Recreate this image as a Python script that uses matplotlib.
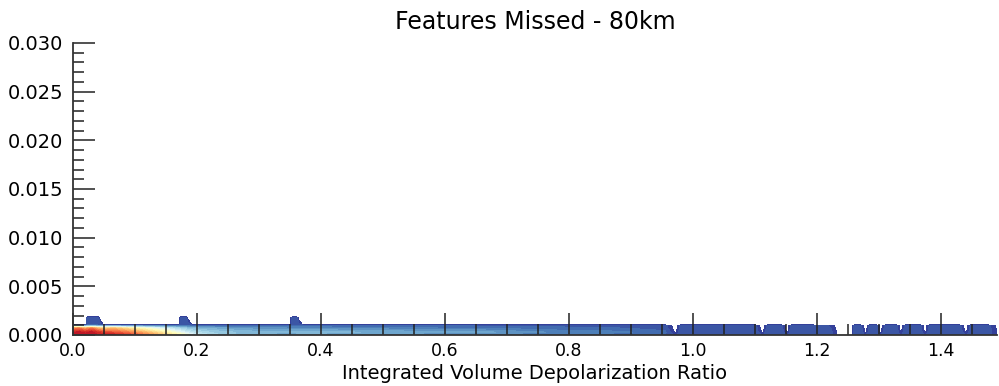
import numpy as np
import matplotlib
matplotlib.use('Agg')
import matplotlib.pyplot as plt
from matplotlib.ticker import MultipleLocator

# Узлы по оси X (отношение деполяризации)
x_nodes = [0.000, 0.010, 0.020, 0.023, 0.030, 0.040, 0.044, 0.052, 0.065, 0.080,
           0.100, 0.120, 0.150, 0.170, 0.174, 0.182, 0.186, 0.194, 0.220, 0.250,
           0.300, 0.350, 0.354, 0.360, 0.364, 0.373, 0.400, 0.450, 0.500, 0.550,
           0.600, 0.650, 0.700, 0.750, 0.800, 0.850, 0.900, 0.955, 0.972, 0.980,
           1.050, 1.100, 1.112, 1.120, 1.142, 1.152, 1.158, 1.218, 1.236, 1.256,
           1.260, 1.270, 1.278, 1.285, 1.296, 1.302, 1.310, 1.328, 1.335, 1.342,
           1.366, 1.374, 1.382, 1.430, 1.440, 1.448, 1.475, 1.495]

# Строки по оси Y (интегрированный коэффициент обратного рассеяния)
y_rows = [0.0, 0.0003, 0.0007, 0.0010, 0.00105, 0.0018, 0.0019]

# Плотность в каждой строке
dens_y0 = [10.5, 10.5, 10.5, 10.5, 10.5, 10.2, 10.2, 10.0, 10.2, 9.8,
           9.2, 8.4, 7.0, 6.0, 5.8, 5.2, 5.0, 4.5, 3.6, 3.0,
           2.4, 2.2, 2.2, 2.2, 2.2, 2.2, 2.1, 2.0, 1.9, 1.8,
           1.7, 1.6, 1.5, 1.4, 1.3, 1.2, 1.1, 1.0, 0.6, 1.0,
           1.0, 1.0, 0.6, 1.0, 1.0, 0.6, 1.0, 1.0, 0.0, 0.0,
           1.0, 1.0, 0.6, 1.0, 1.0, 0.6, 1.0, 1.0, 0.6, 1.0,
           1.0, 0.6, 1.0, 1.0, 0.6, 1.0, 1.0, 0.0]
dens_y1 = [10.0, 10.2, 9.8, 10.0, 10.2, 9.6, 9.5, 9.2, 9.0, 8.6,
           8.0, 7.2, 5.8, 4.8, 4.6, 4.2, 4.0, 3.7, 3.2, 2.9,
           2.6, 2.5, 2.5, 2.6, 2.6, 2.6, 2.7, 2.5, 2.4, 2.3,
           2.2, 2.3, 2.0, 1.8, 1.6, 1.6, 1.4, 1.1, 0.2, 1.0,
           1.0, 1.0, 0.2, 1.0, 1.0, 0.2, 1.0, 1.0, 0.0, 0.0,
           1.0, 1.0, 0.2, 1.0, 1.0, 0.2, 1.0, 1.0, 0.2, 1.0,
           1.0, 0.2, 1.0, 1.0, 0.2, 1.0, 1.0, 0.0]
dens_y2 = [8.0, 8.5, 7.5, 8.0, 8.5, 7.5, 7.2, 7.0, 7.4, 6.8,
           6.0, 5.2, 4.2, 3.4, 3.3, 3.0, 2.9, 2.7, 2.4, 2.2,
           1.9, 1.8, 1.8, 1.8, 1.8, 1.8, 1.8, 1.6, 1.6, 1.5,
           1.4, 1.4, 1.3, 1.2, 1.1, 1.1, 1.0, 0.9, 0.0, 0.9,
           0.9, 0.9, 0.0, 0.9, 0.9, 0.0, 0.9, 0.9, 0.0, 0.0,
           0.9, 0.9, 0.0, 0.9, 0.9, 0.0, 0.9, 0.9, 0.0, 0.9,
           0.9, 0.0, 0.9, 0.9, 0.0, 0.9, 0.9, 0.0]
dens_y3 = [1.5, 1.3, 1.2, 1.2, 1.2, 1.2, 1.1, 1.1, 1.0, 1.0,
           1.0, 1.0, 0.9, 0.9, 0.9, 0.9, 0.9, 0.9, 0.9, 0.9,
           0.9, 0.9, 0.9, 0.9, 0.9, 0.9, 0.9, 0.9, 0.9, 0.9,
           0.9, 0.9, 0.9, 0.9, 0.9, 0.9, 0.9, 0.8, 0.0, 0.8,
           0.8, 0.8, 0.0, 0.8, 0.8, 0.0, 0.8, 0.6, 0.0, 0.0,
           0.8, 0.8, 0.0, 0.8, 0.8, 0.0, 0.8, 0.8, 0.0, 0.8,
           0.8, 0.0, 0.8, 0.8, 0.0, 0.8, 0.8, 0.0]
# "Выступы" над основной полосой
cap_lo = [0.0, 0.0, 0.0, 0.9, 0.9, 0.9, 0.9, 0.0, 0.0, 0.0,
          0.0, 0.0, 0.0, 0.0, 0.9, 0.9, 0.9, 0.0, 0.0, 0.0,
          0.0, 0.0, 0.9, 0.9, 0.9, 0.0] + [0.0] * 42
cap_hi = [0.0, 0.0, 0.0, 0.9, 0.9, 0.9, 0.0, 0.0, 0.0, 0.0,
          0.0, 0.0, 0.0, 0.0, 0.9, 0.9, 0.0, 0.0, 0.0, 0.0,
          0.0, 0.0, 0.9, 0.9, 0.0, 0.0] + [0.0] * 42
dens_top = [0.0] * len(x_nodes)

# 1. Собираем сетку
Z = np.vstack([dens_y0, dens_y1, dens_y2, dens_y3, cap_lo, cap_hi, dens_top])
X, Y = np.meshgrid(x_nodes, y_rows)

# 2. Построение графика
fig = plt.figure(figsize=(9.99, 3.86), dpi=100)
ax = fig.add_axes([73 / 999, 51 / 386, (997 - 73) / 999, (335 - 43) / 386])

levels = np.linspace(0.3, 10.8, 30)
ax.contourf(X, Y, Z, levels=levels, cmap='RdYlBu_r')

ax.set_xlim(0, 1.49)
ax.set_ylim(0, 0.030)

# Оформление
ax.spines['top'].set_visible(False)
ax.spines['right'].set_visible(False)
for s in ('left', 'bottom'):
    ax.spines[s].set_linewidth(1.3)
    ax.spines[s].set_color('#333333')

ax.xaxis.set_major_locator(MultipleLocator(0.2))
ax.xaxis.set_minor_locator(MultipleLocator(0.05))
ax.yaxis.set_major_locator(MultipleLocator(0.005))
ax.yaxis.set_minor_locator(MultipleLocator(0.001))
ax.yaxis.set_major_formatter(plt.FormatStrFormatter('%.3f'))
ax.xaxis.set_major_formatter(plt.FormatStrFormatter('%.1f'))

ax.tick_params(which='both', direction='in', top=False, right=False,
               color='#222222', width=1.1)
ax.tick_params(which='major', length=16)
ax.tick_params(which='minor', length=8)
ax.tick_params(axis='y', which='major', labelsize=14, pad=7)
ax.tick_params(axis='x', which='major', labelsize=12.5, pad=5)

ax.set_title('Features Missed - 80km', fontsize=17, pad=10)
ax.set_xlabel('Integrated Volume Depolarization Ratio', fontsize=14, labelpad=3)

plt.savefig('out.png', dpi=100)
